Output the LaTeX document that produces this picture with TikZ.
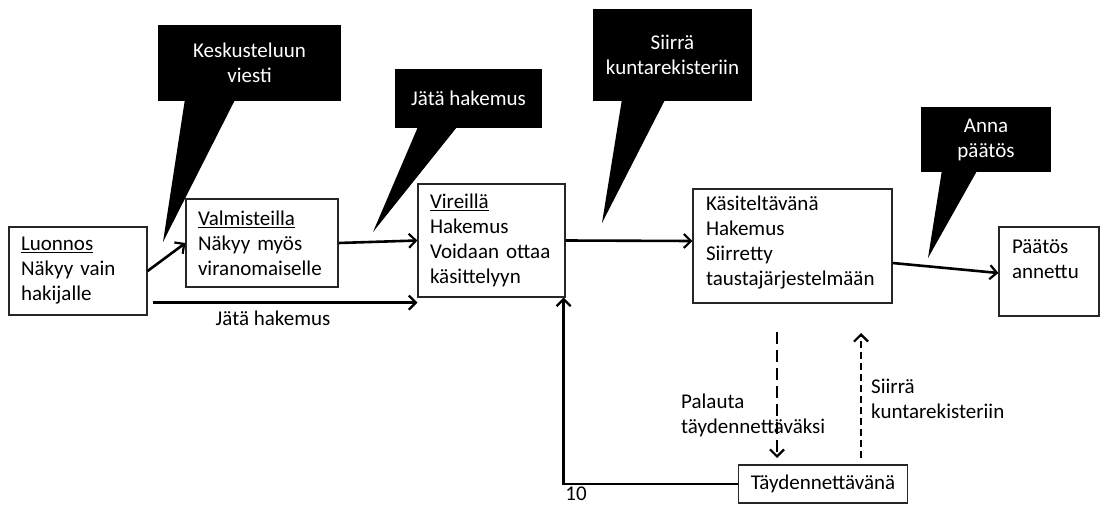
\documentclass[tikz,border=0pt]{standalone}
\usepackage{fontspec}
\setmainfont{Carlito}
\usetikzlibrary{arrows.meta,calc}
\begin{document}
\begin{tikzpicture}[x=1pt,y=-1pt,
  every node/.style={font=\fontsize{21}{25}\selectfont},
  box/.style={draw=black!85,line width=1.2pt,align=left,inner xsep=12pt,inner ysep=0pt},
  callout/.style={fill=black,text=white,align=center,inner sep=0pt},
  arr/.style={line width=2.6pt,-{Straight Barb[length=7pt,width=14pt,line width=2.2pt]}},
  darr/.style={line width=2.6pt,-{Straight Barb[length=7pt,width=14pt,line width=2.2pt,line join=miter]}},
  lbl/.style={inner sep=0pt}]
\useasboundingbox (0,0) rectangle (1101,506);
\fill[white] (0,0) rectangle (1101,506);

% state boxes
\node[box,minimum width=138pt,minimum height=88pt,text width=114pt] (luo) at (78,271)
  {\underline{Luonnos}\\Näkyy vain\\hakijalle};
\node[box,minimum width=152pt,minimum height=88pt,text width=128pt] (val) at (262,243)
  {\underline{Valmisteilla}\\Näkyy myös\\viranomaiselle};
\node[box,minimum width=147pt,minimum height=113pt,text width=123pt] (vir) at (491.5,240.5)
  {\underline{Vireillä}\\Hakemus\\Voidaan ottaa\\käsittelyyn};
\node[box,minimum width=199pt,minimum height=114pt,text width=173pt,inner xsep=13pt] (kas) at (792.5,246)
  {Käsiteltävänä\\Hakemus\\Siirretty\\taustajärjestelmään\\[-14pt]\mbox{}};
\node[box,minimum width=100pt,minimum height=89pt,text width=74pt,inner xsep=13pt] (pat) at (1049,271.5)
  {Päätös\\annettu\\\mbox{}};
\node[box,minimum width=138pt,minimum height=38pt,align=center] (tay) at (823,484)
  {Täydennettävänä};

% callouts
\node[callout,minimum width=183pt,minimum height=76pt] (kesk) at (249.5,63) {Keskusteluun\\viesti};
\node[callout,minimum width=147pt,minimum height=59pt] (jata) at (468.5,98.5) {Jätä hakemus};
\node[callout,minimum width=159pt,minimum height=92pt] (siir) at (672.5,55) {Siirrä\\kuntarekisteriin};
\node[callout,minimum width=130pt,minimum height=65pt] (anna) at (986,139.5) {Anna\\päätös};

\coordinate (keskTip) at (163,242);
\coordinate (jataTip) at (373,232);
\coordinate (siirTip) at (602,223);
\coordinate (annaTip) at (928,258);
\fill ($(kesk.south west)+(27,-1)$) -- (keskTip) -- ($(kesk.south west)+(77,-1)$) -- cycle;
\fill ($(jata.south west)+(23,-1)$) -- (jataTip) -- ($(jata.south west)+(62,-1)$) -- cycle;
\fill ($(siir.south west)+(29,-1)$) -- (siirTip) -- ($(siir.south west)+(72,-1)$) -- cycle;
\fill ($(anna.south west)+(21,-1)$) -- (annaTip) -- ($(anna.south west)+(56,-1)$) -- cycle;

% transitions
\draw[arr] (luo.east) -- (val.west);
\draw[arr] (val.east) -- (vir.west);
\coordinate (lowStart) at ($(luo.south east)+(5,-13)$);
\draw[arr] (lowStart) -- (vir.west |- lowStart);
\node[lbl] (lowLbl) at (273,318) {Jätä hakemus};
\draw[arr] (vir.east) -- ($(kas.west)+(0,-5)$);
\draw[arr] ($(kas.east)+(0,17)$) -- ($(pat.west)+(0,1.5)$);
\draw[arr] (tay.west) -| ($(vir.south east)+(-2,0)$);
\node[lbl] (ten) at (576,494) {10};

% dashed transitions
\coordinate (downA) at (777,332);
\coordinate (downB) at (777,458);
\coordinate (upA) at (861,458);
\coordinate (upB) at (861,333);
\draw[darr,dash pattern=on 12pt off 6pt] (downA) -- (downB);
\draw[darr,dash pattern=on 7pt off 4pt] (upA) -- (upB);
\node[lbl,anchor=west,align=left] (palLbl) at (681,415) {Palauta\\täydennettäväksi};
\node[lbl,anchor=west,align=left] (siLbl) at (871,399) {Siirrä\\kuntarekisteriin};
\end{tikzpicture}
\end{document}
